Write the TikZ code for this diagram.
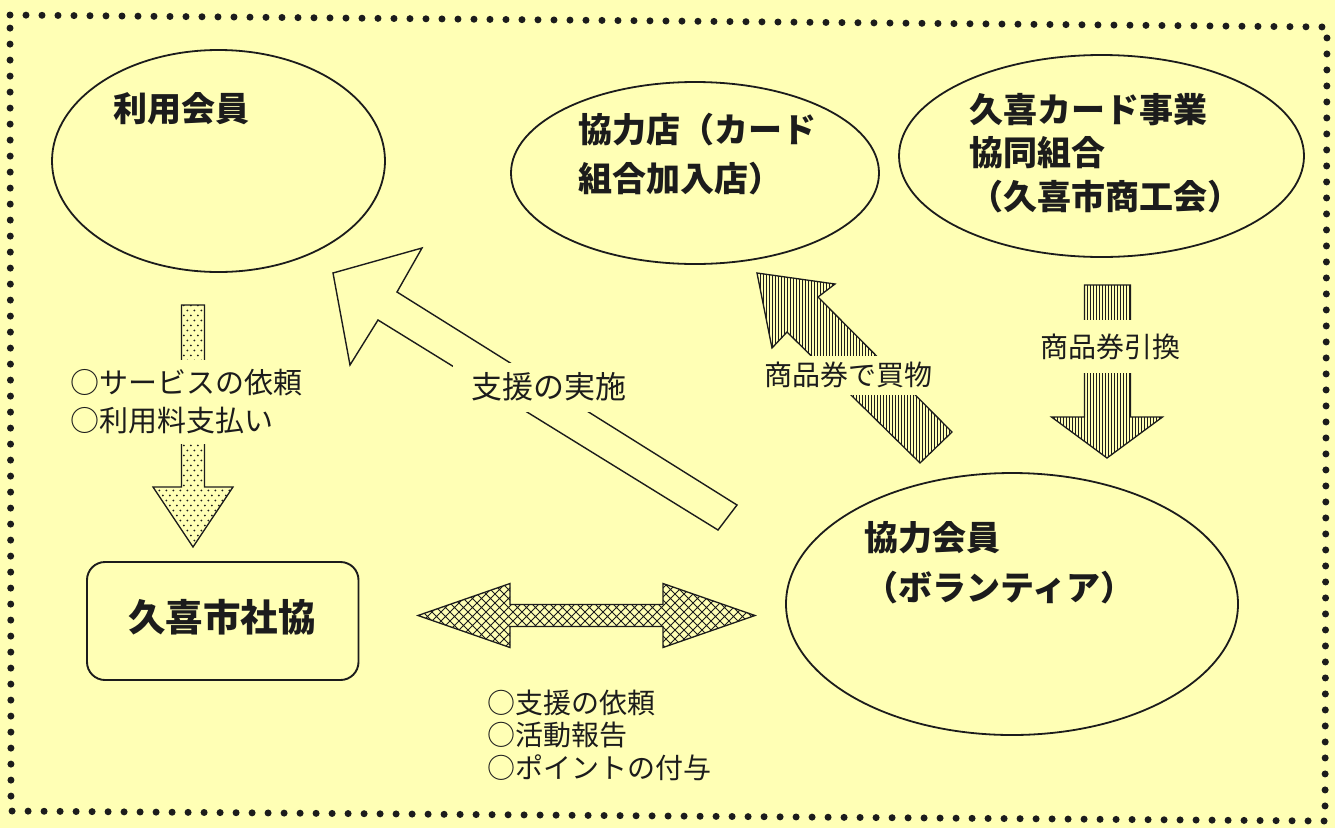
\documentclass[tikz,border=0pt]{standalone}
\usepackage{fontspec}
\setmainfont{Noto Sans CJK JP}
\usetikzlibrary{patterns,shapes.geometric}
\definecolor{bg}{RGB}{255,255,181}
\definecolor{ink}{RGB}{28,28,28}
\pgfdeclarepatternformonly{mydots}{\pgfqpoint{-1pt}{-1pt}}{\pgfqpoint{8pt}{11pt}}{\pgfqpoint{7pt}{10pt}}{%
  \pgfpathcircle{\pgfqpoint{1.75pt}{2.5pt}}{1pt}%
  \pgfpathcircle{\pgfqpoint{5.25pt}{7.5pt}}{1pt}%
  \pgfusepath{fill}}
\pgfdeclarepatternformonly{vlines}{\pgfqpoint{-1pt}{-1pt}}{\pgfqpoint{4pt}{4pt}}{\pgfqpoint{3pt}{3pt}}{%
  \pgfsetlinewidth{1.1pt}%
  \pgfpathmoveto{\pgfqpoint{1.5pt}{-1pt}}\pgfpathlineto{\pgfqpoint{1.5pt}{4pt}}%
  \pgfusepath{stroke}}
\pgfdeclarepatternformonly{xhatch}{\pgfqpoint{-1pt}{-1pt}}{\pgfqpoint{10pt}{10pt}}{\pgfqpoint{9pt}{9pt}}{%
  \pgfsetlinewidth{0.9pt}%
  \pgfpathmoveto{\pgfqpoint{-0.5pt}{-0.5pt}}\pgfpathlineto{\pgfqpoint{9.5pt}{9.5pt}}%
  \pgfpathmoveto{\pgfqpoint{-0.5pt}{9.5pt}}\pgfpathlineto{\pgfqpoint{9.5pt}{-0.5pt}}%
  \pgfusepath{stroke}}
\begin{document}
\begin{tikzpicture}[x=1pt,y=-1pt,
  ell/.style={draw=ink, line width=1.8pt, ellipse, inner sep=0pt},
  lbl/.style={inner sep=0pt, anchor=west, align=left, text=ink},
  arrowtext/.style={fill=bg, text=ink, inner sep=0pt, align=left},
  blk/.style={draw=ink, line width=1.3pt, line join=miter},
]
\fill[bg] (0,0) rectangle (1335,828);
\useasboundingbox (0,0) rectangle (1335,828);
% dotted frame
\draw[ink, line width=7pt, line cap=round, dash pattern=on 0pt off 16pt]
  (10,15) -- (1327,27) -- (1325,821) -- (11,811) -- cycle;

% boxes
\node[ell, minimum width=333pt, minimum height=222pt] (riyo) at (218.5,161) {};
\node[ell, minimum width=368pt, minimum height=182pt] (ten) at (695,173) {};
\node[ell, minimum width=405pt, minimum height=202pt] (kumiai) at (1101.5,156) {};
\node[ell, minimum width=452pt, minimum height=262pt] (kaiin) at (1012,604) {};
\node[draw=ink, line width=1.9pt, rounded corners=18pt, minimum width=271.5pt, minimum height=118pt, inner sep=0pt] (shakyo) at (222.75,621) {};

\node[lbl, font={\fontsize{34}{49}\selectfont\bfseries}] (riyoL) at (113,109) {利用会員};
\node[lbl, font={\fontsize{34}{49}\selectfont\bfseries}] (tenL) at (578,154.5) {協力店（カード\\組合加入店）};
\node[lbl, font={\fontsize{34}{43.75}\selectfont\bfseries}] (kumiaiL) at (969,153) {久喜カード事業\\協同組合\\（久喜市商工会）};
\node[lbl, font={\fontsize{34}{50}\selectfont\bfseries}] (kaiinL) at (864,563) {協力会員\\（ボランティア）};
\node[inner sep=0pt, text=ink, font={\fontsize{37.5}{40}\selectfont\bfseries}] (shakyoL) at (222,617) {久喜市社協};

% arrow: riyo -> shakyo (dotted)
\coordinate (dTip) at (193,547);
\draw[blk, pattern=mydots, pattern color=ink]
  (181.5,305) -- (204.5,305) -- (204.5,487) -- (233,487) -- (dTip) -- (153,487) -- (181.5,487) -- cycle;
\node[arrowtext, anchor=west, inner ysep=10pt, font={\fontsize{29}{38}\selectfont}] (reqL) at (70,402) {○サービスの依頼\\○利用料支払い};

% arrow: kaiin -> riyo (hollow)
\coordinate (aTip) at (333,273);
\draw[blk, line width=1.4pt]
  (aTip) -- (422,248) -- (397,292) -- (737,505) -- (718,530) -- (378,320) -- (350,365) -- cycle;
\node[arrowtext, minimum width=192pt, minimum height=49pt, font={\fontsize{31}{36}\selectfont}] (shienL) at (549,387) {支援の実施};

% arrow: kaiin -> ten (hatched)
\coordinate (bTip) at (757,273);
\draw[blk, pattern=vlines, pattern color=ink]
  (bTip) -- (835,284) -- (818,297) -- (952,432) -- (920,463) -- (787,332) -- (772,348) -- cycle;
\node[arrowtext, inner xsep=2pt, minimum height=39pt, font={\fontsize{28}{32}\selectfont}] (kaimonoL) at (848,375) {商品券で買物};

% arrow: kumiai -> kaiin (hatched)
\coordinate (cTip) at (1107,458);
\draw[blk, pattern=vlines, pattern color=ink]
  (1084.5,285) -- (1130.5,285) -- (1130.5,417) -- (1162.5,417) -- (cTip) -- (1051.5,417) -- (1084.5,417) -- cycle;
\node[arrowtext, inner xsep=2pt, minimum height=53pt, font={\fontsize{28}{32}\selectfont}] (hikikaeL) at (1110,346.5) {商品券引換};

% double arrow: shakyo <-> kaiin (cross hatched)
\coordinate (eL) at (418,615.5);
\coordinate (eR) at (755,615.5);
\draw[blk, pattern=xhatch, pattern color=ink]
  (eL) -- (510,583.5) -- (510,604.5) -- (663,604.5) -- (663,583.5) -- (eR) -- (663,647.5) -- (663,626.5) -- (510,626.5) -- (510,647.5) -- cycle;
\node[lbl, font={\fontsize{28}{32.5}\selectfont}] (irai) at (487,735) {○支援の依頼\\○活動報告\\○ポイントの付与};
\end{tikzpicture}
\end{document}
